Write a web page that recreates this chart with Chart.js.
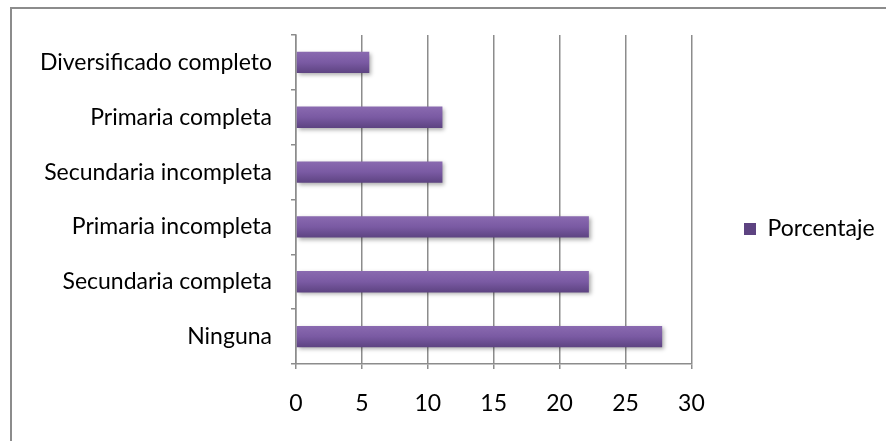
<!DOCTYPE html>
<html>
<head>
<meta charset="utf-8">
<script src="https://cdn.jsdelivr.net/npm/chart.js@4"></script>
<style>
  html, body { margin: 0; padding: 0; background: #fff; overflow: hidden; }
  #wrap { position: relative; width: 886px; height: 441px; overflow: hidden; }
  #frame { position: absolute; left: 10px; top: 7px; width: 900px; height: 460px;
           border-left: 2px solid #8c8c8c; border-top: 2px solid #8c8c8c; }
  #c { position: absolute; left: 0; top: 0; }
</style>
</head>
<body>
<div id="wrap">
  <div id="frame"></div>
  <canvas id="c" width="886" height="441"></canvas>
</div>
<script>
// Education level, top to bottom
const categories = [
  'Diversificado completo',
  'Primaria completa',
  'Secundaria incompleta',
  'Primaria incompleta',
  'Secundaria completa',
  'Ninguna'
];
const porcentaje = [5.56, 11.11, 11.11, 22.22, 22.22, 27.78];
const xTicks = [0, 5, 10, 15, 20, 25, 30];
const seriesLabel = 'Porcentaje';

const FONT = 'Lato, "Open Sans", sans-serif';
const FONT_SIZE = 23;
const GRID = '#8c8c8c';
const BAR_FRACTION = 0.39;

// Vertical shading on each bar, lighter on top
function barFill(ctx) {
  const chart = ctx.chart;
  const yScale = chart.scales && chart.scales.y;
  if (ctx.type !== 'data' || !yScale || !chart.chartArea) return '#7b5ba4';
  const c = yScale.getPixelForValue(ctx.dataIndex);
  const half = (yScale.height / categories.length) * BAR_FRACTION / 2;
  const g = chart.ctx.createLinearGradient(0, c - half, 0, c + half);
  g.addColorStop(0, '#8a6ab0');
  g.addColorStop(0.5, '#7a5aa3');
  g.addColorStop(1, '#5d4381');
  return g;
}

// Soft drop shadow under the bars
const barShadow = {
  id: 'barShadow',
  beforeDatasetsDraw(chart) {
    const ctx = chart.ctx;
    ctx.save();
    ctx.shadowColor = 'rgba(0,0,0,0.32)';
    ctx.shadowBlur = 4;
    ctx.shadowOffsetX = 2;
    ctx.shadowOffsetY = 2;
  },
  afterDatasetsDraw(chart) {
    chart.ctx.restore();
  }
};

// Place the legend at the vertical middle of the frame
const legendPlacement = {
  id: 'legendPlacement',
  afterLayout(chart) {
    const lg = chart.legend;
    if (!lg) return;
    const pad = lg.options.labels.padding;
    const dx = 744 - pad - lg.left;
    lg.left += dx; lg.right += dx;
    const dy = 229 - (lg.top + lg.bottom) / 2;
    lg.top += dy; lg.bottom += dy;
  }
};

new Chart(document.getElementById('c'), {
  type: 'bar',
  data: {
    labels: categories,
    datasets: [{
      label: seriesLabel,
      data: porcentaje,
      backgroundColor: barFill,
      borderWidth: 0,
      barPercentage: BAR_FRACTION,
      categoryPercentage: 1
    }]
  },
  options: {
    indexAxis: 'y',
    responsive: false,
    animation: false,
    devicePixelRatio: 1,
    layout: { padding: { top: 35, left: 0, right: 44, bottom: 0 } },
    plugins: {
      tooltip: { enabled: false },
      legend: {
        position: 'right',
        labels: {
          boxWidth: 12,
          boxHeight: 12,
          padding: 10,
          color: '#000',
          font: { family: FONT, size: FONT_SIZE }
        }
      }
    },
    scales: {
      x: {
        min: 0,
        max: 30,
        afterBuildTicks(scale) { scale.ticks = xTicks.map(v => ({ value: v })); },
        afterFit(scale) { scale.height = 77; },
        ticks: { color: '#000', padding: 21, font: { family: FONT, size: FONT_SIZE } },
        grid: { color: GRID, lineWidth: 1.5, tickLength: 5, drawTicks: true },
        border: { color: GRID, width: 1.5 }
      },
      y: {
        afterFit(scale) { scale.width = 296; },
        ticks: { color: '#000', padding: 19, font: { family: FONT, size: FONT_SIZE } },
        grid: { drawOnChartArea: false, color: GRID, lineWidth: 1.5, tickLength: 5 },
        border: { color: GRID, width: 1.5 }
      }
    }
  },
  plugins: [barShadow, legendPlacement]
});
</script>
</body>
</html>
